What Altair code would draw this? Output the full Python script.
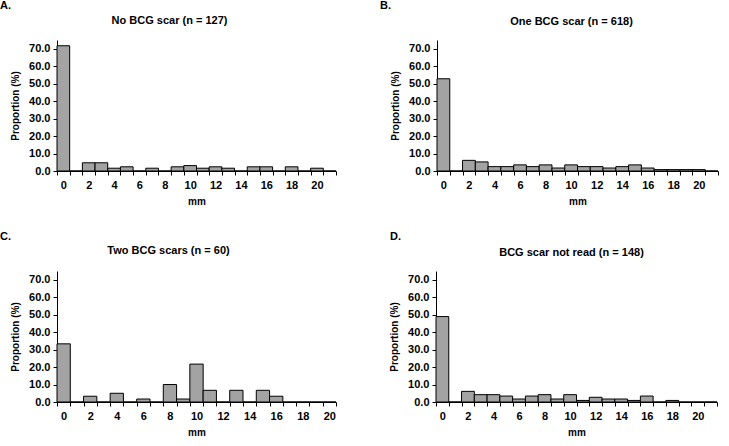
import altair as alt
import pandas as pd

# Induration size categories (mm)
mm_0_21 = list(range(22))
mm_0_20 = list(range(21))

# Proportion (%) of children at each induration size
no_scar = [71.7, 0, 4.7, 4.7, 1.6, 2.4, 0, 1.6, 0, 2.4, 3.1, 1.6, 2.4, 1.6,
           0, 2.4, 2.4, 0, 2.4, 0, 1.6, 0]
one_scar = [52.8, 0, 6.1, 5.2, 2.5, 2.5, 3.5, 2.5, 3.5, 1.7, 3.5, 2.5, 2.5, 1.7,
            2.5, 3.5, 1.7, 0.8, 0.8, 0.8, 0.8, 0]
two_scars = [33.3, 0, 3.3, 0, 5.0, 0, 1.7, 0, 10.0, 1.7, 21.7, 6.7, 0, 6.7,
             0, 6.7, 3.3, 0, 0, 0, 0]
not_read = [48.9, 0, 6.1, 4.2, 4.2, 3.4, 1.7, 3.4, 4.2, 1.7, 4.2, 0.9, 2.7, 1.7,
            1.7, 0.9, 3.4, 0, 0.9, 0, 0, 0]

titles = ["No BCG scar (n = 127)", "One BCG scar (n = 618)",
          "Two BCG scars (n = 60)", "BCG scar not read (n = 148)"]
letters = ["A.", "B.", "C.", "D."]

FONT = "Liberation Sans"
Y_TICKS = [0, 10, 20, 30, 40, 50, 60, 70]
PLOT_H = 131


def panel(cats, values, title, letter, width, title_dx, title_y, letter_dx):
    df = pd.DataFrame({"mm": cats, "pct": values})
    bars = alt.Chart(df).mark_bar(
        color="#a3a3a3", stroke="black", strokeWidth=1
    ).encode(
        x=alt.X(
            "mm:O",
            scale=alt.Scale(paddingInner=0, paddingOuter=0),
            axis=alt.Axis(
                title="mm",
                labelAngle=0,
                tickBand="extent",
                labelExpr="datum.value % 2 == 0 ? datum.label : ''",
                tickSize=4,
                labelPadding=4,
                labelFontSize=11,
                titlePadding=6,
            ),
        ),
        y=alt.Y(
            "pct:Q",
            scale=alt.Scale(domain=[0, 75], nice=False),
            axis=alt.Axis(
                title="Proportion (%)",
                values=Y_TICKS,
                format=".1f",
                tickSize=4,
                labelPadding=3,
                labelFontSize=11,
                titlePadding=8,
            ),
        ),
    )
    text_style = dict(font=FONT, fontWeight="bold", fontSize=11,
                      color="black", baseline="alphabetic")
    tag = alt.Chart(pd.DataFrame({"t": [letter]})).mark_text(
        align="left", **text_style
    ).encode(text="t:N", x=alt.value(letter_dx), y=alt.value(-31))
    heading = alt.Chart(pd.DataFrame({"t": [title]})).mark_text(
        align="center", **text_style
    ).encode(text="t:N", x=alt.value(width / 2 + title_dx),
             y=alt.value(title_y))
    return alt.layer(bars, tag, heading).properties(width=width, height=PLOT_H)


a = panel(mm_0_21, no_scar, titles[0], letters[0], 279, -27, -16, -57)
b = panel(mm_0_21, one_scar, titles[1], letters[1], 281, -6, -15, -57)
c = panel(mm_0_20, two_scars, titles[2], letters[2], 279, -28, -17, -57)
d = panel(mm_0_21, not_read, titles[3], letters[3], 281, -5, -15, -46)

chart = alt.vconcat(
    alt.hconcat(a, b, spacing=43),
    alt.hconcat(c, d, spacing=52),
    spacing=25,
).configure(
    padding={"left": 0, "top": 0, "right": 5, "bottom": 0},
    background="white",
).configure_view(
    stroke=None
).configure_axis(
    domainColor="black",
    tickColor="black",
    labelColor="black",
    titleColor="black",
    labelFont=FONT,
    titleFont=FONT,
    labelFontWeight="bold",
    titleFontWeight="bold",
    titleFontSize=10,
    grid=False,
    domainWidth=1,
)

chart.save("out.html", embed_options={"renderer": "svg", "actions": False})
